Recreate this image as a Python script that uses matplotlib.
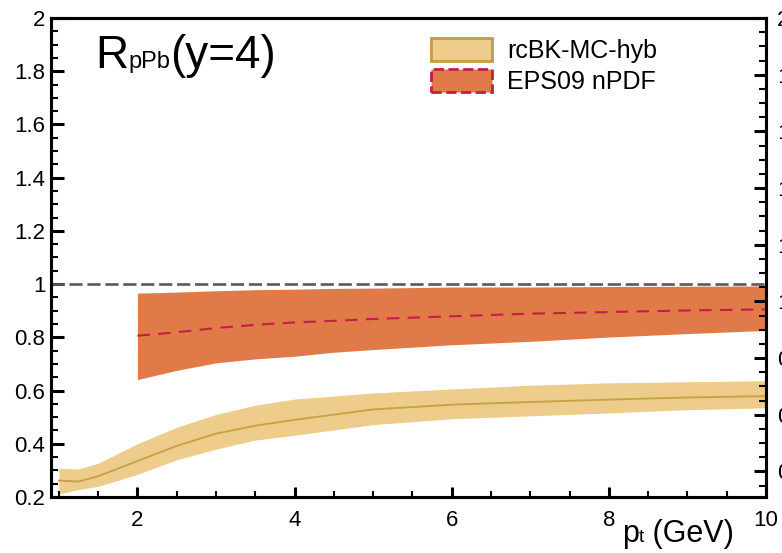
import matplotlib
matplotlib.use("Agg")
import matplotlib.pyplot as plt
from matplotlib.patches import Patch
from matplotlib.ticker import MultipleLocator, FormatStrFormatter
from matplotlib.offsetbox import TextArea, HPacker, AnnotationBbox

plt.rcParams["font.family"] = ["Liberation Sans", "DejaVu Sans"]

# rcBK-MC-hyb band
rcbk_pt = [1.0, 1.25, 1.5, 2.0, 2.5, 3.0, 3.5, 4.0, 5.0, 6.0, 7.0, 8.0, 9.0, 10.0]
rcbk_mid = [0.262, 0.258, 0.278, 0.335, 0.392, 0.438, 0.468, 0.490, 0.529, 0.547, 0.557, 0.566, 0.574, 0.579]
rcbk_hi = [0.308, 0.305, 0.327, 0.400, 0.462, 0.510, 0.545, 0.568, 0.591, 0.606, 0.620, 0.629, 0.633, 0.637]
rcbk_lo = [0.212, 0.228, 0.240, 0.285, 0.340, 0.380, 0.414, 0.432, 0.472, 0.494, 0.505, 0.516, 0.528, 0.535]

# EPS09 nPDF band
eps_pt = [2.0, 2.5, 3.0, 3.5, 4.0, 4.5, 5.0, 6.0, 7.0, 8.0, 9.0, 10.0]
eps_mid = [0.806, 0.819, 0.835, 0.847, 0.856, 0.862, 0.869, 0.879, 0.889, 0.895, 0.901, 0.905]
eps_hi = [0.966, 0.970, 0.975, 0.979, 0.981, 0.984, 0.985, 0.989, 0.989, 0.991, 0.992, 0.993]
eps_lo = [0.641, 0.676, 0.704, 0.719, 0.729, 0.744, 0.754, 0.772, 0.785, 0.801, 0.814, 0.826]

labels = ["rcBK-MC-hyb", "EPS09 nPDF"]

tan_fill = "#EDCC8C"
tan_line = "#C9A043"
tan_edge = "#C39A4A"
orange_fill = "#E07B49"
crimson = "#C41E45"

fig = plt.figure(figsize=(7.82, 5.53), dpi=100)
W, H = 782, 553
ax = fig.add_axes([51 / W, (H - 497) / H, 715 / W, 479 / H])

ax.fill_between(rcbk_pt, rcbk_lo, rcbk_hi, color=tan_fill, lw=0)
ax.plot(rcbk_pt, rcbk_mid, color=tan_line, lw=1.3)
ax.fill_between(eps_pt, eps_lo, eps_hi, color=orange_fill, lw=0)
ax.plot(eps_pt, eps_mid, color=crimson, lw=1.5, dashes=(6, 4))
ax.axhline(1.0, color="#5A5A5A", lw=1.9, dashes=(5, 1.8))

ax.set_xlim(0.9, 10)
ax.set_ylim(0.2, 2)
ax.xaxis.set_major_locator(MultipleLocator(2))
ax.xaxis.set_minor_locator(MultipleLocator(0.5))
ax.yaxis.set_major_locator(MultipleLocator(0.2))
ax.yaxis.set_minor_locator(MultipleLocator(0.05))
ax.yaxis.set_major_formatter(FormatStrFormatter("%g"))
ax.xaxis.set_major_formatter(FormatStrFormatter("%g"))
ax.tick_params(which="both", direction="in", top=False, right=False, labelsize=16)
ax.tick_params(axis="y", which="major", length=9, width=2.2, pad=4)
ax.tick_params(axis="y", which="minor", length=5, width=1.5)
ax.tick_params(axis="x", which="major", length=7.5, width=2.2, pad=9)
ax.tick_params(axis="x", which="minor", length=4.5, width=1.5)
for s in ax.spines.values():
    s.set_linewidth(2.2)

# neighbouring panel's axis showing on the right edge
ax2 = ax.twinx()
ax2.set_ylim(0.31, 2.0)
ax2.yaxis.set_major_locator(MultipleLocator(0.2))
ax2.yaxis.set_minor_locator(MultipleLocator(0.05))
ax2.yaxis.set_major_formatter(FormatStrFormatter("%g"))
ax2.tick_params(which="both", direction="in", labelsize=16, pad=8)
ax2.tick_params(which="major", length=9, width=2.2)
ax2.tick_params(which="minor", length=5, width=1.5)
for s in ax2.spines.values():
    s.set_linewidth(2.2)

handles = [
    Patch(facecolor=tan_fill, edgecolor=tan_edge, lw=2),
    Patch(facecolor=orange_fill, edgecolor=crimson, lw=2, linestyle="--"),
]
ax.legend(handles, labels, loc="upper left", bbox_to_anchor=(0.514, 0.984),
          frameon=False, fontsize=18, borderpad=0, handlelength=2.45,
          handleheight=1.0, labelspacing=0.25, handletextpad=0.6)

# R_pPb(y=4) label
title = HPacker(children=[
    TextArea("R", textprops=dict(fontsize=33)),
    TextArea("pPb", textprops=dict(fontsize=17)),
    TextArea("(y=4)", textprops=dict(fontsize=33)),
], align="baseline", pad=0, sep=0)
fig.add_artist(AnnotationBbox(title, (95 / W, (H - 78) / H), xycoords="figure fraction",
                              box_alignment=(0, 0), frameon=False, pad=0))

# p_t (GeV) axis label
xlab = HPacker(children=[
    TextArea("p", textprops=dict(fontsize=22)),
    TextArea("t", textprops=dict(fontsize=14)),
    TextArea(" (GeV)", textprops=dict(fontsize=22)),
], align="baseline", pad=0, sep=0)
fig.add_artist(AnnotationBbox(xlab, (622 / W, (H - 549) / H), xycoords="figure fraction",
                              box_alignment=(0, 0), frameon=False, pad=0))

fig.savefig("out.png", dpi=100)
